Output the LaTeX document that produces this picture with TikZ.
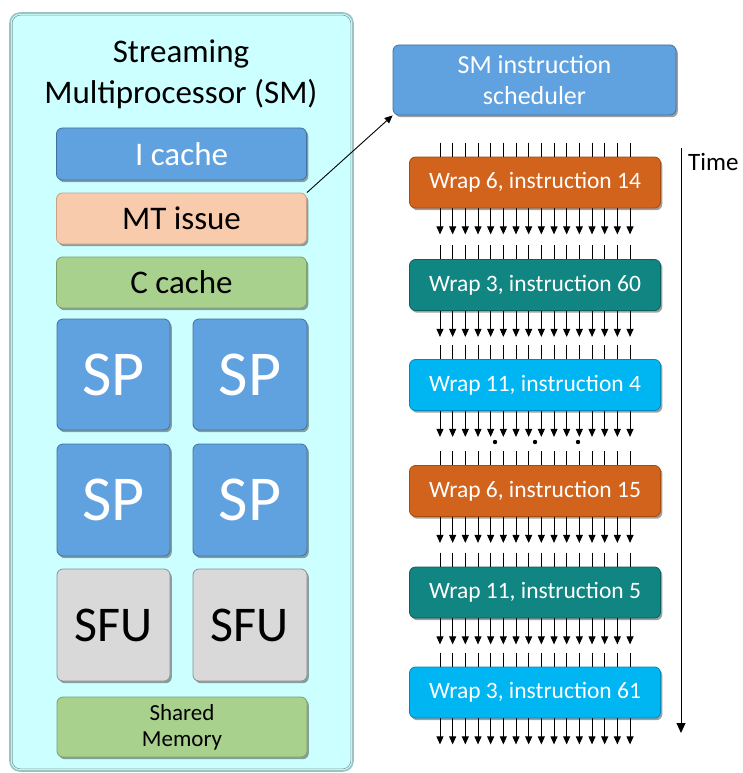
\documentclass[tikz,border=0pt]{standalone}
\usepackage{fontspec}
\setmainfont{Carlito}
\usetikzlibrary{calc,shadows,arrows.meta}
\definecolor{smfill}{HTML}{CCFFFF}
\definecolor{smedge}{HTML}{9CC3C3}
\definecolor{bluebox}{HTML}{60A1DF}
\definecolor{blueedge}{HTML}{41719C}
\definecolor{peachbox}{HTML}{F8CBAD}
\definecolor{peachedge}{HTML}{C9A088}
\definecolor{greenbox}{HTML}{A9D18E}
\definecolor{greenedge}{HTML}{7FA068}
\definecolor{graybox}{HTML}{D9D9D9}
\definecolor{grayedge}{HTML}{8F8F8F}
\definecolor{orangebox}{HTML}{D2631C}
\definecolor{orangeedge}{HTML}{A54A10}
\definecolor{tealbox}{HTML}{118581}
\definecolor{tealedge}{HTML}{0B5F5C}
\definecolor{cyanbox}{HTML}{00B6F2}
\definecolor{cyanedge}{HTML}{0088B8}
\tikzset{
  box/.style={rounded corners=6pt, line width=0.8pt, inner sep=0pt, align=center,
    drop shadow={shadow xshift=1.8pt, shadow yshift=-2.2pt, opacity=0.5, fill=black!75}},
  bluecell/.style={box, fill=bluebox, draw=blueedge, text=white},
  peachcell/.style={box, fill=peachbox, draw=peachedge, text=black},
  greencell/.style={box, fill=greenbox, draw=greenedge, text=black},
  graycell/.style={box, fill=graybox, draw=grayedge, text=black},
  wrapbox/.style={box, minimum width=251pt, minimum height=51pt, text=white,
    font=\fontsize{23.5}{27}\selectfont},
  orangecell/.style={wrapbox, fill=orangebox, draw=orangeedge},
  tealcell/.style={wrapbox, fill=tealbox, draw=tealedge},
  cyancell/.style={wrapbox, fill=cyanbox, draw=cyanedge},
  tickline/.style={line width=0.9pt, black},
  downarrow/.style={line width=0.9pt, black, -{Triangle[length=8pt,width=7pt]}},
  bigfont/.style={font=\fontsize{33}{40}\selectfont},
}
\begin{document}
\begin{tikzpicture}[x=1pt,y=-1pt]
\useasboundingbox (0,0) rectangle (742,773);
% SM container
\node[rounded corners=10pt, fill=smfill, draw=smedge, line width=1.6pt,
      minimum width=343pt, minimum height=758pt, inner sep=0pt] (sm) at (181.5,392) {};
\draw[smedge!80!black, line width=0.6pt, rounded corners=8pt]
  ($(sm.north west)+(3,3)$) rectangle ($(sm.south east)+(-3,-3)$);
\node[bigfont, anchor=base] (title1) at (181,63) {Streaming};
\node[bigfont, anchor=base] (title2) at (181,103) {Multiprocessor (SM)};
% units
\node[bluecell, minimum width=250pt, minimum height=52pt, bigfont] (icache) at (181.5,154) {I cache};
\node[peachcell, minimum width=250pt, minimum height=51pt, bigfont] (mt) at (181.5,218.5) {MT issue};
\node[greencell, minimum width=250pt, minimum height=51pt, bigfont] (ccache) at (181.5,282.5) {C cache};
\node[bluecell, minimum width=113pt, minimum height=111pt, font=\fontsize{64}{70}\selectfont] (sp1) at (113.5,374.5) {SP};
\node[bluecell, minimum width=114pt, minimum height=111pt, font=\fontsize{64}{70}\selectfont] (sp2) at (250,374.5) {SP};
\node[bluecell, minimum width=113pt, minimum height=112pt, font=\fontsize{64}{70}\selectfont] (sp3) at (113.5,500) {SP};
\node[bluecell, minimum width=114pt, minimum height=112pt, font=\fontsize{64}{70}\selectfont] (sp4) at (250,500) {SP};
\node[graycell, minimum width=113pt, minimum height=112pt, font=\fontsize{50}{56}\selectfont] (sfu1) at (113.5,625) {SFU};
\node[graycell, minimum width=114pt, minimum height=112pt, font=\fontsize{50}{56}\selectfont] (sfu2) at (250,625) {SFU};
\node[greencell, minimum width=250pt, minimum height=60pt, font=\fontsize{23}{26}\selectfont] (shmem) at (182,727) {Shared\\Memory};
% scheduler
\node[bluecell, minimum width=283pt, minimum height=70pt, font=\fontsize{26}{31}\selectfont] (sched) at (534.5,80) {SM instruction\\scheduler};
\draw[line width=0.9pt, -{Triangle[length=8pt,width=7pt]}] (mt.north east) -- (sched.south west);
% warps
\node[orangecell] (w1) at (535,182.5) {Wrap 6, instruction 14};
\node[tealcell]   (w2) at (535,285)   {Wrap 3, instruction 60};
\node[cyancell]   (w3) at (535,385)   {Wrap 11, instruction 4};
\node[orangecell] (w4) at (535,491)   {Wrap 6, instruction 15};
\node[tealcell]   (w5) at (535,592.5) {Wrap 11, instruction 5};
\node[cyancell]   (w6) at (535,692.5) {Wrap 3, instruction 61};
\foreach \w in {w1,w2,w3,w4,w5,w6}{
  \foreach \i in {0,...,15}{
    \draw[tickline] ($(\w.north)+({(\i-7.5)*12.67},-14)$) -- ($(\w.north)+({(\i-7.5)*12.67},0)$);
    \draw[downarrow] ($(\w.south)+({(\i-7.5)*12.67},0)$) -- ++(0,26);
  }
}
% dots
\fill (495,442) circle (2.2pt);
\fill (535,442) circle (2.2pt);
\fill (578,442) circle (2.2pt);
% time axis
\coordinate (t1) at (681,148);
\coordinate (t2) at (681,733);
\draw[line width=1pt, -{Triangle[length=10pt,width=9pt]}] (t1) -- (t2);
\node[anchor=west, inner sep=0pt, font=\fontsize{25}{30}\selectfont] (time) at (688,162) {Time};
\end{tikzpicture}
\end{document}
